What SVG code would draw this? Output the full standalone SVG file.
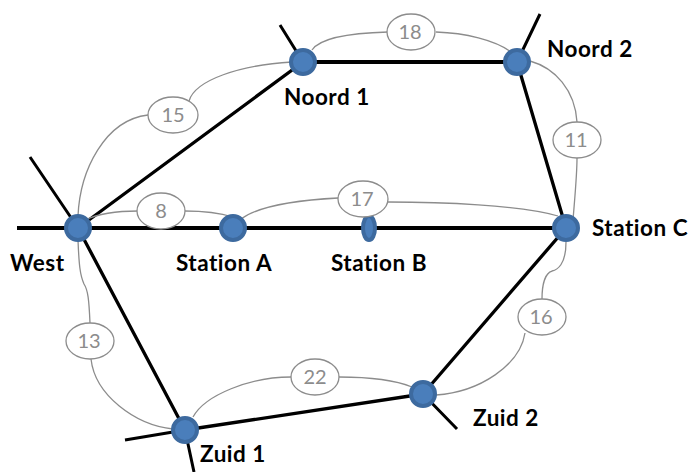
<svg xmlns="http://www.w3.org/2000/svg" width="691" height="472" viewBox="0 0 691 472">
<style>
.rail{fill:none;stroke:#000;stroke-width:4;stroke-linecap:butt}
.thin{stroke-width:3.3}
.stub{fill:none;stroke:#000;stroke-width:3}
.link{fill:none;stroke:#8c8c8c;stroke-width:1.3}
.st{fill:#4a7ebb;stroke:#3d6a9f;stroke-width:4}
.w{fill:#fff;stroke:#8c8c8c;stroke-width:1.3}
.wt{font-family:Lato,"Open Sans",sans-serif;font-size:20px;fill:#8c8c8c;text-anchor:middle}
.lb{font-family:Lato,"Open Sans",sans-serif;font-size:22.5px;font-weight:700;fill:#000;letter-spacing:.5px}
</style>
<rect width="691" height="472" fill="#fff"/>
<g id="connectors">
<path class="rail" d="M17 228H566M303 62H517"/>
<path class="rail thin" d="M78 228L303 62M517 62L566 228M78 228L185 430M185 430L423 394M423 394L566 228"/>
<path class="stub" d="M30 157L78 228M280 25L303 62M540 14L517 62M125 440L185 430M185 430L194 472M423 394L457 429"/>
<path class="link" d="M78 216C80 170 105 120 148 115"/>
<path class="link" d="M189 101C195 80 240 65 292 62"/>
<path class="link" d="M85 220C100 213 120 211 138 211"/>
<path class="link" d="M185 211C200 211 220 213 233 217"/>
<path class="link" d="M241 219C260 205 300 200 338 198"/>
<path class="link" d="M388 202C440 202 520 205 558 216"/>
<path class="link" d="M312 50C320 38 350 33 388 32"/>
<path class="link" d="M436 32C465 33 495 40 511 52"/>
<path class="link" d="M530 61C555 68 575 90 577 122"/>
<path class="link" d="M577 158C577 175 575 195 573 220"/>
<path class="link" d="M566 242C566 265 557 270 552 271C545 273 542 285 542 299"/>
<path class="link" d="M525 333C520 365 480 392 436 395"/>
<path class="link" d="M193 417C205 395 250 377 291 377"/>
<path class="link" d="M339 377C365 377 395 380 412 387"/>
<path class="link" d="M78 240C79 265 80 275 84 284C88 290 89 300 90 323"/>
<path class="link" d="M91 359C95 395 135 425 173 429"/>
</g>
<g id="station-west"><circle class="st" cx="78" cy="228" r="12"/><text class="lb" x="10" y="271">West</text></g>
<g id="station-noord1"><circle class="st" cx="303" cy="62" r="12"/><text class="lb" x="284" y="105">Noord 1</text></g>
<g id="station-noord2"><circle class="st" cx="517" cy="62" r="12"/><text class="lb" x="547" y="57">Noord 2</text></g>
<g id="station-a"><circle class="st" cx="233" cy="228" r="12"/><text class="lb" x="176" y="271">Station A</text></g>
<g id="station-b"><ellipse class="st" cx="369" cy="228" rx="6" ry="12"/><text class="lb" x="331" y="271">Station B</text></g>
<g id="station-c"><circle class="st" cx="566" cy="228" r="12"/><text class="lb" x="592" y="236">Station C</text></g>
<g id="station-zuid1"><circle class="st" cx="185" cy="430" r="12"/><text class="lb" x="200" y="462">Zuid 1</text></g>
<g id="station-zuid2"><circle class="st" cx="423" cy="394" r="12"/><text class="lb" x="473" y="426">Zuid 2</text></g>
<g id="w15"><ellipse class="w" cx="173" cy="115" rx="25" ry="18"/><text class="wt" x="173" y="122">15</text></g>
<g id="w8"><ellipse class="w" cx="161" cy="211" rx="24" ry="18"/><text class="wt" x="161" y="218">8</text></g>
<g id="w18"><ellipse class="w" cx="411" cy="32" rx="24" ry="18"/><text class="wt" x="410" y="39">18</text></g>
<g id="w17"><ellipse class="w" cx="363" cy="199" rx="25" ry="18"/><text class="wt" x="362" y="206">17</text></g>
<g id="w11"><ellipse class="w" cx="577" cy="140" rx="24" ry="18"/><text class="wt" x="576" y="147">11</text></g>
<g id="w16"><ellipse class="w" cx="542" cy="317" rx="24" ry="18"/><text class="wt" x="541" y="324">16</text></g>
<g id="w13"><ellipse class="w" cx="90" cy="341" rx="24" ry="18"/><text class="wt" x="89" y="348">13</text></g>
<g id="w22"><ellipse class="w" cx="315" cy="377" rx="24" ry="18"/><text class="wt" x="315" y="384">22</text></g>
</svg>
